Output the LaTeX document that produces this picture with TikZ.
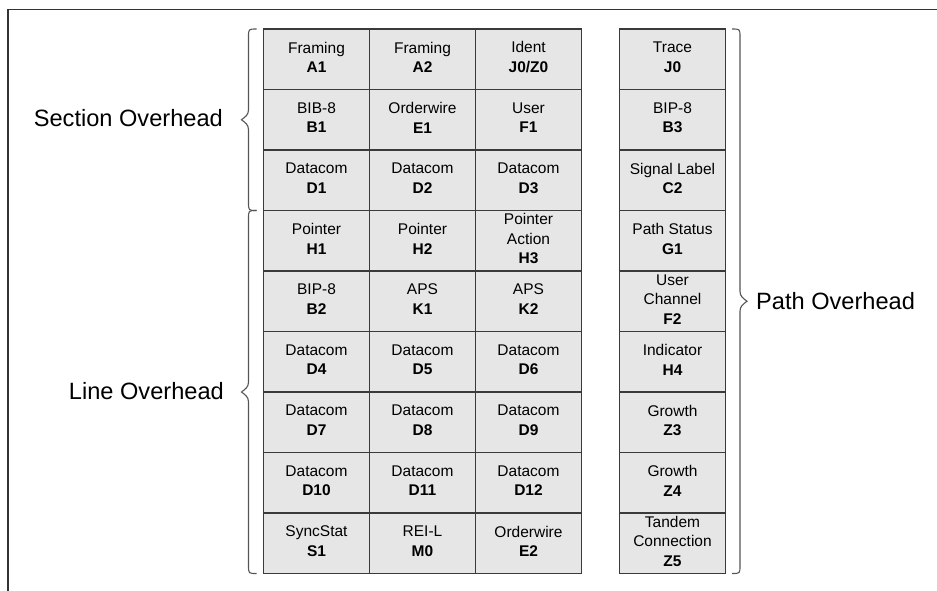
\documentclass[tikz,border=0pt]{standalone}
\usepackage{fontspec}
\setmainfont{Liberation Sans}
\definecolor{cellfill}{HTML}{E6E6E6}
\definecolor{cellline}{HTML}{3A3A3A}
\definecolor{braceline}{HTML}{555555}
\definecolor{frameline}{HTML}{333333}

\tikzset{
  cellbox/.style={draw=cellline, fill=cellfill, line width=1.1pt, inner sep=0pt,
                  minimum width=106pt, minimum height=60.5pt},
  celltext/.style={align=center, inner sep=0pt, yshift=2pt,
                   font=\fontsize{15.5}{19.5}\selectfont},
  bracestyle/.style={draw=braceline, line width=1.1pt},
  grouplabel/.style={inner sep=0pt, font=\fontsize{23.6}{28}\selectfont},
  framestyle/.style={draw=frameline, line width=1.4pt}
}

% one overhead byte: box #1 centred at column x #2, row #3, text #4
\newcommand\ohcell[4]{%
  \node[cellbox] (#1) at (#2,{29+60.5*(#3-0.5)}) {};
  \node[celltext] (#1-t) at (#1.center) {#4};
}
% brace on the left of a group, opening towards the grid
\newcommand\ohbraceleft[3]{%
  \pgfmathsetmacro\ohmid{(#2+#3)/2}
  \draw[bracestyle] (#1+8,#2) .. controls (#1,#2) .. (#1,#2+8)
     -- (#1,\ohmid-10) .. controls (#1,\ohmid-5) and (#1-3,\ohmid-3) .. (#1-7,\ohmid)
     .. controls (#1-3,\ohmid+3) and (#1,\ohmid+5) .. (#1,\ohmid+10)
     -- (#1,#3-8) .. controls (#1,#3) .. (#1+8,#3);
}
% brace on the right of a group
\newcommand\ohbraceright[3]{%
  \pgfmathsetmacro\ohmid{(#2+#3)/2}
  \draw[bracestyle] (#1-8,#2) .. controls (#1,#2) .. (#1,#2+8)
     -- (#1,\ohmid-10) .. controls (#1,\ohmid-5) and (#1+3,\ohmid-3) .. (#1+7,\ohmid)
     .. controls (#1+3,\ohmid+3) and (#1,\ohmid+5) .. (#1,\ohmid+10)
     -- (#1,#3-8) .. controls (#1,#3) .. (#1-8,#3);
}

\begin{document}
\begin{tikzpicture}[x=1pt,y=-1pt]
\useasboundingbox (0,0) rectangle (937,590);

% outer frame (top and left edges)
\draw[framestyle] (8,595) -- (8,9.3) -- (945,9.3);

% transport overhead: section and line bytes
\ohcell{m-1-1}{316.5}{1}{Framing\\\textbf{A1}}
\ohcell{m-1-2}{422.5}{1}{Framing\\\textbf{A2}}
\ohcell{m-1-3}{528.5}{1}{Ident\\\textbf{J0/Z0}}
\ohcell{m-2-1}{316.5}{2}{BIB-8\\\textbf{B1}}
\ohcell{m-2-2}{422.5}{2}{Orderwire\\\textbf{E1}}
\ohcell{m-2-3}{528.5}{2}{User\\\textbf{F1}}
\ohcell{m-3-1}{316.5}{3}{Datacom\\\textbf{D1}}
\ohcell{m-3-2}{422.5}{3}{Datacom\\\textbf{D2}}
\ohcell{m-3-3}{528.5}{3}{Datacom\\\textbf{D3}}
\ohcell{m-4-1}{316.5}{4}{Pointer\\\textbf{H1}}
\ohcell{m-4-2}{422.5}{4}{Pointer\\\textbf{H2}}
\ohcell{m-4-3}{528.5}{4}{Pointer\\Action\\\textbf{H3}}
\ohcell{m-5-1}{316.5}{5}{BIP-8\\\textbf{B2}}
\ohcell{m-5-2}{422.5}{5}{APS\\\textbf{K1}}
\ohcell{m-5-3}{528.5}{5}{APS\\\textbf{K2}}
\ohcell{m-6-1}{316.5}{6}{Datacom\\\textbf{D4}}
\ohcell{m-6-2}{422.5}{6}{Datacom\\\textbf{D5}}
\ohcell{m-6-3}{528.5}{6}{Datacom\\\textbf{D6}}
\ohcell{m-7-1}{316.5}{7}{Datacom\\\textbf{D7}}
\ohcell{m-7-2}{422.5}{7}{Datacom\\\textbf{D8}}
\ohcell{m-7-3}{528.5}{7}{Datacom\\\textbf{D9}}
\ohcell{m-8-1}{316.5}{8}{Datacom\\\textbf{D10}}
\ohcell{m-8-2}{422.5}{8}{Datacom\\\textbf{D11}}
\ohcell{m-8-3}{528.5}{8}{Datacom\\\textbf{D12}}
\ohcell{m-9-1}{316.5}{9}{SyncStat\\\textbf{S1}}
\ohcell{m-9-2}{422.5}{9}{REI-L\\\textbf{M0}}
\ohcell{m-9-3}{528.5}{9}{Orderwire\\\textbf{E2}}

% path overhead column
\ohcell{p-1}{672.5}{1}{Trace\\\textbf{J0}}
\ohcell{p-2}{672.5}{2}{BIP-8\\\textbf{B3}}
\ohcell{p-3}{672.5}{3}{Signal Label\\\textbf{C2}}
\ohcell{p-4}{672.5}{4}{Path Status\\\textbf{G1}}
\ohcell{p-5}{672.5}{5}{User\\Channel\\\textbf{F2}}
\ohcell{p-6}{672.5}{6}{Indicator\\\textbf{H4}}
\ohcell{p-7}{672.5}{7}{Growth\\\textbf{Z3}}
\ohcell{p-8}{672.5}{8}{Growth\\\textbf{Z4}}
\ohcell{p-9}{672.5}{9}{Tandem\\Connection\\\textbf{Z5}}

% group braces
\ohbraceleft{248.5}{29}{210.5}
\ohbraceleft{248.5}{210.5}{573.5}
\ohbraceright{740}{29}{573.5}

% group labels
\node[grouplabel, anchor=base east] (sec) at (223,126.5) {Section Overhead};
\node[grouplabel, anchor=base east] (line) at (224,399) {Line Overhead};
\node[grouplabel, anchor=base west] (path) at (756,309) {Path Overhead};
\end{tikzpicture}
\end{document}
